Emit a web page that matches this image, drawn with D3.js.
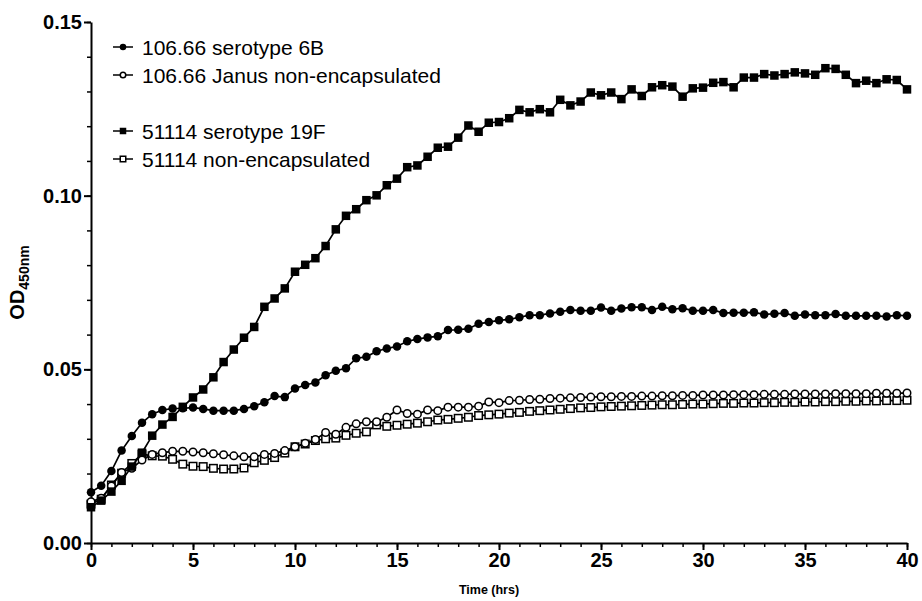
<!DOCTYPE html>
<html>
<head>
<meta charset="utf-8">
<script src="https://cdn.jsdelivr.net/npm/d3@7"></script>
<style>
  body { margin: 0; background: #fff; }
  svg { display: block; font-family: Arial, "Liberation Sans", sans-serif; }
</style>
</head>
<body>
<div id="chart"></div>
<script>
// sampling every 0.5 h, 0..40 h
const hours = d3.range(0, 40.5, 0.5);

const s6B = [
  0.0146,0.0165,0.0207,0.0266,0.0308,0.0346,0.0371,0.0383,0.0387,0.0388,
  0.0390,0.0386,0.0381,0.0381,0.0381,0.0386,0.0394,0.0405,0.0423,0.0420,
  0.0445,0.0455,0.0462,0.0483,0.0496,0.0503,0.0532,0.0536,0.0552,0.0560,
  0.0566,0.0581,0.0587,0.0592,0.0595,0.0613,0.0614,0.0617,0.0631,0.0636,
  0.0641,0.0644,0.0650,0.0656,0.0656,0.0661,0.0666,0.0671,0.0669,0.0669,
  0.0678,0.0669,0.0675,0.0679,0.0679,0.0671,0.0680,0.0673,0.0676,0.0669,
  0.0669,0.0671,0.0662,0.0663,0.0663,0.0664,0.0658,0.0660,0.0662,0.0654,
  0.0658,0.0656,0.0656,0.0659,0.0654,0.0654,0.0654,0.0654,0.0652,0.0656,
  0.0654
];

const sJanus = [
  0.0119,0.0129,0.0164,0.0203,0.0215,0.0239,0.0255,0.0260,0.0264,0.0264,
  0.0262,0.0260,0.0257,0.0254,0.0251,0.0248,0.0248,0.0255,0.0258,0.0266,
  0.0277,0.0287,0.0298,0.0318,0.0313,0.0333,0.0343,0.0349,0.0349,0.0362,
  0.0383,0.0373,0.0371,0.0383,0.0381,0.0391,0.0391,0.0391,0.0394,0.0406,
  0.0404,0.0410,0.0411,0.0413,0.0414,0.0416,0.0417,0.0418,0.0419,0.0420,
  0.0421,0.0421,0.0422,0.0422,0.0423,0.0423,0.0424,0.0424,0.0425,0.0425,
  0.0426,0.0426,0.0426,0.0427,0.0427,0.0427,0.0428,0.0428,0.0428,0.0429,
  0.0429,0.0429,0.0429,0.0430,0.0430,0.0430,0.0430,0.0431,0.0431,0.0431,
  0.0432
];

const s19F = [
  0.0103,0.0122,0.0148,0.0179,0.0220,0.0260,0.0309,0.0341,0.0363,0.0392,
  0.0419,0.0442,0.0477,0.0521,0.0557,0.0591,0.0622,0.0680,0.0704,0.0733,
  0.0781,0.0801,0.0820,0.0855,0.0903,0.0942,0.0961,0.0987,0.1001,0.1030,
  0.1049,0.1082,0.1087,0.1112,0.1138,0.1141,0.1167,0.1202,0.1184,0.1210,
  0.1212,0.1223,0.1247,0.1240,0.1249,0.1240,0.1276,0.1260,0.1271,0.1297,
  0.1289,0.1297,0.1278,0.1306,0.1287,0.1312,0.1318,0.1314,0.1285,0.1309,
  0.1311,0.1325,0.1327,0.1312,0.1340,0.1340,0.1350,0.1346,0.1350,0.1355,
  0.1352,0.1348,0.1367,0.1365,0.1348,0.1324,0.1331,0.1324,0.1335,0.1333,
  0.1306
];

const s51114 = [
  0.0112,0.0126,0.0167,0.0201,0.0229,0.0256,0.0251,0.0250,0.0241,0.0227,
  0.0221,0.0220,0.0215,0.0213,0.0213,0.0216,0.0231,0.0238,0.0246,0.0259,
  0.0277,0.0285,0.0295,0.0300,0.0302,0.0310,0.0316,0.0320,0.0340,0.0336,
  0.0339,0.0342,0.0345,0.0349,0.0354,0.0356,0.0359,0.0362,0.0367,0.0369,
  0.0371,0.0374,0.0376,0.0379,0.0381,0.0383,0.0385,0.0387,0.0389,0.0390,
  0.0392,0.0393,0.0394,0.0395,0.0396,0.0397,0.0398,0.0398,0.0399,0.0400,
  0.0400,0.0401,0.0402,0.0402,0.0403,0.0403,0.0404,0.0404,0.0405,0.0405,
  0.0406,0.0406,0.0407,0.0407,0.0408,0.0408,0.0409,0.0409,0.0410,0.0410,
  0.0411
];

const xTicks = [0, 5, 10, 15, 20, 25, 30, 35, 40];
const yTicks = [0, 0.05, 0.10, 0.15];

const series = [
  { name: "51114 non-encapsulated", values: s51114, shape: "square", filled: false },
  { name: "106.66 Janus non-encapsulated", values: sJanus, shape: "circle", filled: false },
  { name: "106.66 serotype 6B", values: s6B, shape: "circle", filled: true },
  { name: "51114 serotype 19F", values: s19F, shape: "square", filled: true }
];
const legendOrder = [2, 1, 3, 0];
const legendY = [47, 75, 131, 159];

const width = 922, height = 601;
const margin = { top: 22, right: 15, bottom: 58, left: 91 };

const svg = d3.select("#chart").append("svg")
  .attr("width", width)
  .attr("height", height);

const x = d3.scaleLinear().domain([0, 40]).range([margin.left, width - margin.right]);
const y = d3.scaleLinear().domain([0, 0.15]).range([height - margin.bottom, margin.top]);

// minor ticks
svg.append("g")
  .attr("transform", `translate(0,${height - margin.bottom})`)
  .call(d3.axisBottom(x).tickValues(d3.range(0, 41, 1)).tickSize(4).tickFormat(""))
  .call(g => g.select(".domain").remove())
  .selectAll("line").attr("stroke-width", 1.5);

svg.append("g")
  .attr("transform", `translate(${margin.left},0)`)
  .call(d3.axisLeft(y).tickValues(d3.range(0, 0.1501, 0.01)).tickSize(4).tickFormat(""))
  .call(g => g.select(".domain").remove())
  .selectAll("line").attr("stroke-width", 1.5);

// major axes
const xAxis = svg.append("g")
  .attr("transform", `translate(0,${height - margin.bottom})`)
  .call(d3.axisBottom(x).tickValues(xTicks).tickSize(7).tickSizeOuter(0).tickPadding(3));
xAxis.select(".domain").attr("stroke-width", 2);
xAxis.selectAll(".tick line").attr("stroke-width", 2);
xAxis.selectAll("text").attr("font-size", 20).attr("font-weight", "bold").attr("fill", "#000");

const yAxis = svg.append("g")
  .attr("transform", `translate(${margin.left},0)`)
  .call(d3.axisLeft(y).tickValues(yTicks).tickFormat(d3.format(".2f")).tickSize(7).tickSizeOuter(0).tickPadding(2));
yAxis.select(".domain").attr("stroke-width", 2);
yAxis.selectAll(".tick line").attr("stroke-width", 2);
yAxis.selectAll("text").attr("font-size", 20).attr("font-weight", "bold").attr("fill", "#000");

// axis titles
svg.append("text")
  .attr("x", 489)
  .attr("y", 594)
  .attr("text-anchor", "middle")
  .attr("font-size", 12.5)
  .attr("font-weight", "bold")
  .text("Time (hrs)");

const yl = svg.append("text")
  .attr("transform", `translate(24,${(margin.top + height - margin.bottom) / 2}) rotate(-90)`)
  .attr("text-anchor", "middle")
  .attr("font-weight", "bold")
  .attr("font-size", 20);
yl.append("tspan").text("OD");
yl.append("tspan").attr("font-size", 14).attr("dy", 5).text("450nm");

// lines + markers
const line = d3.line()
  .x((d, i) => x(hours[i]))
  .y(d => y(d));

function drawMarker(g, shape, filled, cx, cy, size) {
  const sw = filled ? 0 : 1.5;
  if (shape === "circle") {
    g.append("circle")
      .attr("cx", cx).attr("cy", cy).attr("r", filled ? size / 2 : size / 2 - 0.5)
      .attr("fill", filled ? "#000" : "#fff")
      .attr("stroke", "#000").attr("stroke-width", sw);
  } else {
    const s = filled ? size : size - 1;
    g.append("rect")
      .attr("x", cx - s / 2).attr("y", cy - s / 2)
      .attr("width", s).attr("height", s)
      .attr("fill", filled ? "#000" : "#fff")
      .attr("stroke", "#000").attr("stroke-width", sw);
  }
}

series.forEach(s => {
  const g = svg.append("g");
  g.append("path")
    .datum(s.values)
    .attr("fill", "none")
    .attr("stroke", "#000")
    .attr("stroke-width", 1.7)
    .attr("d", line);
  s.values.forEach((v, i) => {
    drawMarker(g, s.shape, s.filled, x(hours[i]), y(v), 8.5);
  });
});

// legend
const leg = svg.append("g");
legendOrder.forEach((si, k) => {
  const s = series[si];
  const ly = legendY[k];
  leg.append("line")
    .attr("x1", 113).attr("x2", 133)
    .attr("y1", ly).attr("y2", ly)
    .attr("stroke", "#000").attr("stroke-width", 1.5);
  drawMarker(leg, s.shape, s.filled, 123, ly, 6.5);
  leg.append("text")
    .attr("x", 142)
    .attr("y", ly)
    .attr("dy", "0.36em")
    .attr("font-size", 21)
    .text(s.name);
});
</script>
</body>
</html>
